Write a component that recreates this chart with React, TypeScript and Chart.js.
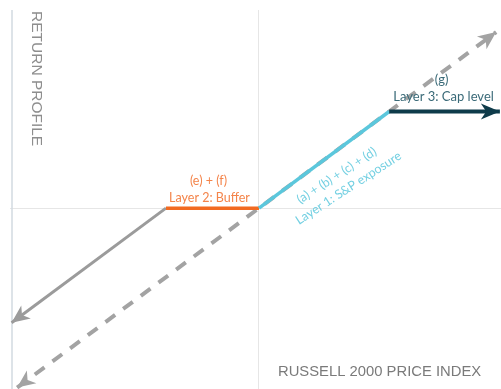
import React, { useEffect, useRef } from "react";
import { Chart, registerables } from "chart.js";

Chart.register(...registerables);

// Index return (x, %) vs. product return (y, %)
const bufferX = [-26.6, -10];
const bufferY = [-16.6, 0];
const layer2X = [-10, 0];
const layer2Y = [0, 0];
const layer1X = [0, 14];
const layer1Y = [0, 14];
const layer3X = [14, 25.9];
const layer3Y = [14, 14];
const indexX = [-26, 25.5];
const indexY = [-26, 25.5];

const xMin = -26.77;
const xMax = 26.02;
const yMin = -26.2;
const yMax = 28.7;

const zip = (xs: number[], ys: number[]) => xs.map((x, i) => ({ x, y: ys[i] }));

function drawArrow(ctx: CanvasRenderingContext2D, x0: number, y0: number, x1: number, y1: number, color: string, len: number, half: number) {
  const ang = Math.atan2(y1 - y0, x1 - x0);
  ctx.save();
  ctx.translate(x1, y1);
  ctx.rotate(ang);
  ctx.setLineDash([]);
  ctx.beginPath();
  ctx.moveTo(0, 0);
  ctx.lineTo(-len, -half);
  ctx.lineTo(-len * 0.72, 0);
  ctx.lineTo(-len, half);
  ctx.closePath();
  ctx.fillStyle = color;
  ctx.fill();
  ctx.restore();
}

const gridPlugin = {
  id: "guides",
  beforeDatasetsDraw(chart: any) {
    const { ctx, chartArea, scales } = chart;
    const x0 = scales.x.getPixelForValue(0);
    const y0 = scales.y.getPixelForValue(0);
    ctx.save();
    ctx.lineWidth = 1;
    ctx.strokeStyle = "#e6e6e6";
    ctx.beginPath();
    ctx.moveTo(Math.round(x0) - 0.5, chartArea.top);
    ctx.lineTo(Math.round(x0) - 0.5, chartArea.bottom);
    ctx.moveTo(chartArea.left, Math.round(y0) + 0.5);
    ctx.lineTo(chartArea.right, Math.round(y0) + 0.5);
    ctx.stroke();
    ctx.strokeStyle = "#d2dae1";
    ctx.lineWidth = 1.5;
    ctx.beginPath();
    ctx.moveTo(chartArea.left + 2, chartArea.top);
    ctx.lineTo(chartArea.left + 2, chartArea.bottom);
    ctx.stroke();
    ctx.restore();
  },
};

const arrowPlugin = {
  id: "arrows",
  afterDatasetsDraw(chart: any) {
    const ctx = chart.ctx;
    chart.data.datasets.forEach((ds: any, i: number) => {
      const pts = chart.getDatasetMeta(i).data;
      if (ds.arrowEnd) {
        const a = pts[pts.length - 2], b = pts[pts.length - 1];
        drawArrow(ctx, a.x, a.y, b.x, b.y, ds.arrowColor || ds.borderColor, ds.arrowLen, ds.arrowHalf);
      }
      if (ds.arrowStart) {
        const a = pts[1], b = pts[0];
        drawArrow(ctx, a.x, a.y, b.x, b.y, ds.arrowColor || ds.borderColor, ds.arrowLen, ds.arrowHalf);
      }
    });
  },
};

const textPlugin = {
  id: "labels",
  afterDraw(chart: any) {
    const { ctx, chartArea, scales } = chart;
    const px = (v: number) => scales.x.getPixelForValue(v);
    const py = (v: number) => scales.y.getPixelForValue(v);
    ctx.save();
    ctx.textAlign = "center";
    ctx.textBaseline = "middle";

    // Layer 2: Buffer
    const l2x = px((layer2X[0] + layer2X[1]) / 2) - 3;
    const l2y = py(layer2Y[0]);
    ctx.fillStyle = "#f4844a";
    ctx.font = "12.5px Lato";
    ctx.fillText("(e) + (f)", l2x - 1, l2y - 27);
    ctx.fillText("Layer 2: Buffer", l2x, l2y - 10);

    // Layer 3: Cap level
    const l3x = px((layer3X[0] + layer3X[1]) / 2) - 1;
    const l3y = py(layer3Y[0]);
    ctx.fillStyle = "#3a6a78";
    ctx.font = "13px Lato";
    ctx.fillText("(g)", l3x - 2, l3y - 32);
    ctx.fillText("Layer 3: Cap level", l3x, l3y - 15);

    // Layer 1: S&P exposure (rotated along the line)
    const mx = px((layer1X[0] + layer1X[1]) / 2);
    const my = py((layer1Y[0] + layer1Y[1]) / 2);
    ctx.save();
    ctx.translate(mx, my);
    ctx.rotate((-33 * Math.PI) / 180);
    ctx.fillStyle = "#74d0e2";
    ctx.font = "12.5px Lato";
    ctx.fillText("(a) + (b) + (c) + (d)", 2, 20);
    ctx.fillText("Layer 1: S&P exposure", 5, 37);
    ctx.restore();

    // Axis titles
    ctx.fillStyle = "#8e8e8e";
    ctx.font = "15.5px 'Liberation Sans', Arial, sans-serif";
    ctx.save();
    ctx.translate(chartArea.left + 26, chartArea.top + 1);
    ctx.rotate(Math.PI / 2);
    ctx.textAlign = "left";
    ctx.fillText("RETURN PROFILE", 0, 0);
    ctx.restore();

    ctx.fillStyle = "#7a7a7a";
    ctx.font = "14.8px 'Liberation Sans', Arial, sans-serif";
    ctx.textAlign = "left";
    ctx.fillText("RUSSELL 2000 PRICE INDEX", 278, chartArea.bottom - 17);
    ctx.restore();
  },
};

export default function App() {
  const ref = useRef<HTMLCanvasElement | null>(null);
  useEffect(() => {
    if (!ref.current) return;
    const chart = new Chart(ref.current, {
      type: "scatter",
      data: {
        datasets: [
          {
            data: zip(layer3X, layer3Y),
            showLine: true,
            borderColor: "#0e3b4a",
            borderWidth: 4,
            pointRadius: 0,
            arrowEnd: true,
            arrowLen: 19,
            arrowHalf: 8,
          } as any,
          {
            data: zip(layer1X, layer1Y),
            showLine: true,
            borderColor: "#5bc7dc",
            borderWidth: 3.5,
            pointRadius: 0,
          },
          {
            data: zip(layer2X, layer2Y),
            showLine: true,
            borderColor: "#f26a21",
            borderWidth: 3.5,
            pointRadius: 0,
          },
          {
            data: zip(bufferX, bufferY),
            showLine: true,
            borderColor: "#9b9b9b",
            borderWidth: 3,
            pointRadius: 0,
            arrowStart: true,
            arrowLen: 18,
            arrowHalf: 8,
          } as any,
          {
            data: zip(indexX, indexY),
            showLine: true,
            borderColor: "#a3a3a3",
            borderWidth: 4,
            borderDash: [12, 10],
            pointRadius: 0,
            arrowStart: true,
            arrowEnd: true,
            arrowLen: 18,
            arrowHalf: 8,
          } as any,
        ],
      },
      options: {
        animation: false,
        responsive: false,
        devicePixelRatio: 1,
        layout: { padding: { top: 10, left: 10, right: 0, bottom: 0 } },
        plugins: { legend: { display: false }, tooltip: { enabled: false } },
        scales: {
          x: { type: "linear", display: false, min: xMin, max: xMax },
          y: { type: "linear", display: false, min: yMin, max: yMax },
        },
      },
      plugins: [gridPlugin, arrowPlugin, textPlugin],
    });
    return () => chart.destroy();
  }, []);
  return (
    <div style={{ position: "absolute", left: 0, top: 0, width: 501, height: 389, background: "#fff" }}>
      <canvas ref={ref} width={501} height={389} style={{ display: "block" }} />
    </div>
  );
}
